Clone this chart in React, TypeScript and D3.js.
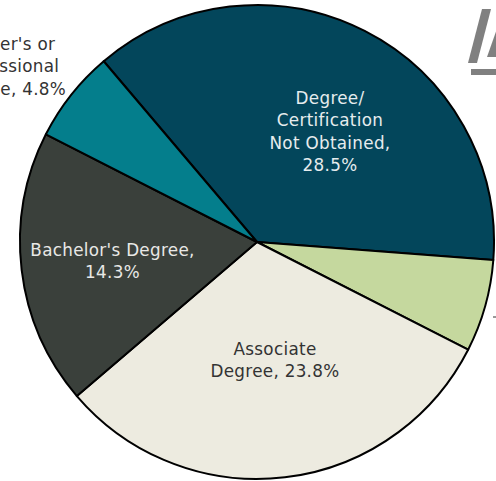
import React from "react";
import * as d3 from "d3";

const categories = [
  "Degree/Certification Not Obtained",
  "Certificate",
  "Associate Degree",
  "Bachelor's Degree",
  "Master's or Professional Degree",
];
const values = [28.5, 4.8, 23.8, 14.3, 4.8];
const colors = ["#03465B", "#C5D89E", "#EDEBE0", "#3A403B", "#047E8C"];
const labelLines: string[][] = [
  ["Degree/", "Certification", "Not Obtained,", "28.5%"],
  [],
  ["Associate", "Degree, 23.8%"],
  ["Bachelor's Degree,", "14.3%"],
  ["Master's or", "Professional", "Degree, 4.8%"],
];
const labelColors = ["#E6ECEE", "#333333", "#333333", "#E8E8E6", "#333333"];

const W = 496;
const H = 481;
const cx = 257;
const cy = 242;
const R = 237;

export default function App() {
  const startDeg = -40.3;
  const pie = d3
    .pie<number>()
    .sort(null)
    .value((d) => d)
    .startAngle((startDeg * Math.PI) / 180)
    .endAngle(((startDeg + 360) * Math.PI) / 180);
  const arcs = pie(values);
  const arc = d3.arc<d3.PieArcDatum<number>>().innerRadius(0).outerRadius(R);

  // label block centers (relative to pie center) in px
  const labelPos: [number, number][] = [
    [73, -110.5],
    [0, 0],
    [18, 118],
    [-144.5, 19],
    [-250, -175.5],
  ];
  const lineH = 22.3;
  const font = "'DejaVu Sans', sans-serif";

  return (
    <svg
      width={W}
      height={H}
      style={{ position: "absolute", left: 0, top: 0, background: "#fff" }}
    >
      <g transform={`translate(${cx},${cy})`}>
        {arcs.map((a, i) => (
          <path
            key={categories[i]}
            d={arc(a) || ""}
            fill={colors[i]}
            stroke="#000"
            strokeWidth={2}
            strokeLinejoin="round"
          />
        ))}
        {arcs.map((a, i) => {
          const lines = labelLines[i];
          if (!lines.length) return null;
          const [lx, ly] = labelPos[i];
          const y0 = ly - ((lines.length - 1) * lineH) / 2;
          return (
            <text
              key={"t" + i}
              textAnchor="middle"
              fontFamily={font}
              fontSize={16.8}
              letterSpacing={0.3}
              fill={labelColors[i]}
            >
              {lines.map((ln, j) => (
                <tspan key={j} x={lx} y={y0 + j * lineH} dy="0.35em">
                  {ln}
                </tspan>
              ))}
            </text>
          );
        })}
      </g>
      {/* leader line for the small green slice */}
      <line x1={493} y1={317} x2={500} y2={317} stroke="#333" strokeWidth={1} />
      {/* partial logo at top right */}
      <g fill="#808080">
        <polygon points="468,63 477,63 491,9 482,9" />
        <polygon points="487,57 496,57 500,38 500,20" />
        <rect x={471} y={69} width={30} height={6} />
      </g>
    </svg>
  );
}
